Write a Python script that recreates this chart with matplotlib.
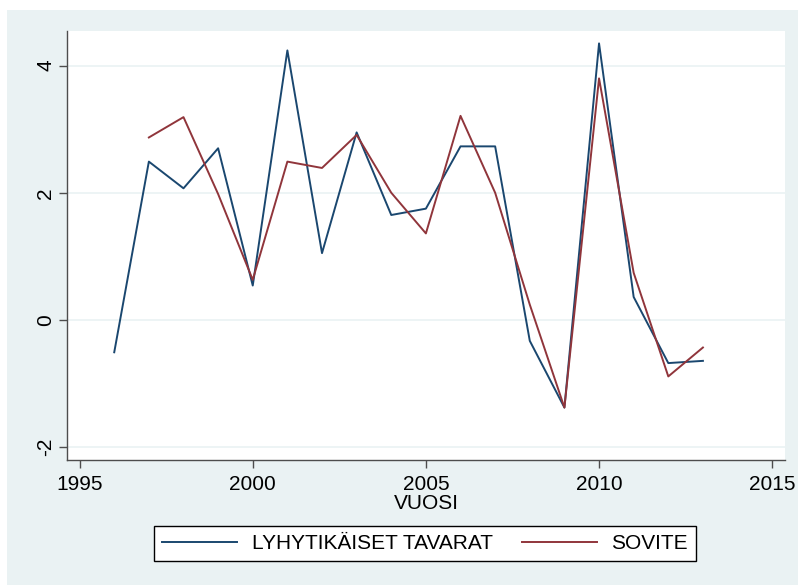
import matplotlib.pyplot as plt
from matplotlib.patches import Rectangle

# Vuosittaiset arvot: havainnot ja sovite
vuosi = list(range(1996, 2014))
tavarat = [-0.51, 2.49, 2.07, 2.70, 0.54, 4.24, 1.05, 2.95, 1.65,
           1.75, 2.73, 2.73, -0.33, -1.38, 4.35, 0.36, -0.68, -0.645]
sovite_vuosi = list(range(1997, 2014))
sovite = [2.87, 3.19, 1.98, 0.63, 2.49, 2.39, 2.91, 2.00, 1.36,
          3.21, 2.00, 0.24, -1.38, 3.80, 0.74, -0.89, -0.435]

x_ticks = [1995, 2000, 2005, 2010, 2015]
y_ticks = [-2, 0, 2, 4]

BG = '#EAF2F3'
BLUE = '#1A476F'
RED = '#90353B'
AXIS = '#4D4D4D'

plt.rcParams['font.family'] = ['Liberation Sans', 'DejaVu Sans']
plt.rcParams['axes.unicode_minus'] = False

fig = plt.figure(figsize=(7.98, 5.85), dpi=100, facecolor='white')
# Graph region background
fig.patches.append(Rectangle((7 / 798, 0), 1, 1 - 10 / 585,
                             transform=fig.transFigure, facecolor=BG,
                             edgecolor='none', zorder=-10))

ax = fig.add_axes([67 / 798, 125 / 585, 718 / 798, 429.3 / 585])
ax.set_facecolor('white')

ax.plot(vuosi, tavarat, color=BLUE, lw=1.4, label='LYHYTIKÄISET TAVARAT')
ax.plot(sovite_vuosi, sovite, color=RED, lw=1.4, label='SOVITE')

ax.set_xlim(1994.636, 2015.37)
ax.set_ylim(-2.205, 4.55)
ax.set_xticks(x_ticks)
ax.set_yticks(y_ticks)
ax.grid(axis='y', color=BG, lw=1.2)
ax.set_axisbelow(True)

for s in ('top', 'right'):
    ax.spines[s].set_visible(False)
for s in ('left', 'bottom'):
    ax.spines[s].set_color(AXIS)
    ax.spines[s].set_linewidth(1.0)

ax.tick_params(length=6, width=1.0, color=AXIS, labelsize=15, pad=5)
ax.tick_params(axis='y', labelrotation=90, pad=2.5)
for lab in ax.get_yticklabels():
    lab.set_va('center')

ax.set_xlabel('VUOSI', fontsize=15, labelpad=0)

leg = fig.legend(loc='center', bbox_to_anchor=(425 / 798, 1 - 543.5 / 585),
                 ncol=2, fontsize=15, frameon=True, fancybox=False,
                 framealpha=1, handlelength=3.6, handletextpad=0.7,
                 columnspacing=1.4, borderpad=0.4)
leg.get_frame().set_edgecolor('black')
leg.get_frame().set_linewidth(1.0)

fig.savefig('out.png', dpi=100, facecolor='white')
